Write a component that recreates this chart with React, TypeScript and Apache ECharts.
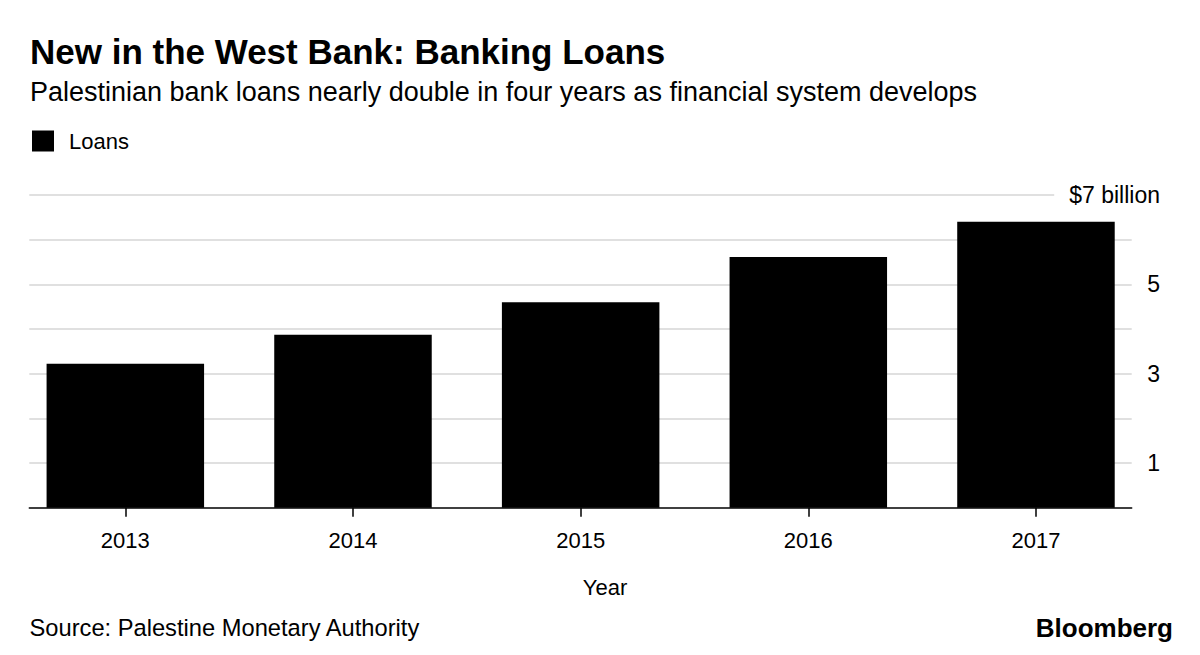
import React, { useEffect, useRef } from "react";
import * as echarts from "echarts";

const years = ["2013", "2014", "2015", "2016", "2017"];
const loans = [3.22, 3.87, 4.6, 5.61, 6.4];
const yTicks = [0, 1, 2, 3, 4, 5, 6, 7];

const FONT = "'Liberation Sans', Arial, Helvetica, sans-serif";

export default function App() {
  const ref = useRef<HTMLDivElement>(null);

  useEffect(() => {
    if (!ref.current) return;
    const chart = echarts.init(ref.current, null, { renderer: "svg" });

    const top = 195;
    const bottom = 655 - 507.7;

    chart.setOption({
      animation: false,
      backgroundColor: "#ffffff",
      textStyle: { fontFamily: FONT },
      legend: {
        show: true,
        left: 32,
        top: 130,
        padding: 0,
        icon: "rect",
        itemWidth: 22,
        itemHeight: 21,
        data: [{ name: "Loans", itemStyle: { color: "#000" } }],
        textStyle: {
          fontFamily: FONT,
          fontSize: 22,
          color: "#000",
          padding: [0, 0, 0, 10],
        },
        selectedMode: false,
      },
      grid: [
        { left: 29.3, right: 1200 - 1131.7, top, bottom, containLabel: false },
        { left: 11.5, right: 1200 - 1149.8, top, bottom, containLabel: false },
      ],
      xAxis: [
        {
          gridIndex: 0,
          type: "value",
          min: 0,
          max: 1,
          axisLine: { show: true, onZero: false, lineStyle: { color: "#000", width: 1.5 } },
          axisTick: { show: false },
          axisLabel: { show: false },
          splitLine: { show: false },
        },
        {
          gridIndex: 1,
          type: "category",
          data: years,
          axisLine: { show: false },
          axisTick: {
            show: true,
            alignWithLabel: true,
            length: 9,
            lineStyle: { color: "#000", width: 1.5 },
          },
          axisLabel: {
            fontFamily: FONT,
            fontSize: 22,
            color: "#000",
            margin: 32.3,
            verticalAlign: "middle",
          },
          splitLine: { show: false },
        },
      ],
      yAxis: [
        {
          gridIndex: 0,
          type: "value",
          position: "right",
          min: yTicks[0],
          max: yTicks[yTicks.length - 1],
          interval: 1,
          axisLine: { show: false },
          axisTick: { show: false },
          splitLine: {
            show: true,
            showMinLine: false,
            lineStyle: { color: "#e0e0e0", width: 2 },
          },
          axisLabel: {
            fontFamily: FONT,
            fontSize: 23,
            color: "#000",
            align: "right",
            margin: 28.3,
            formatter: (v: number) => {
              if (v === 7) return "{top|$7 billion}";
              return v % 2 === 1 ? String(v) : "";
            },
            rich: {
              top: {
                fontFamily: FONT,
                fontSize: 23,
                color: "#000",
                backgroundColor: "#ffffff",
                padding: [2, 0, 2, 15],
              },
            },
          },
        },
        {
          gridIndex: 1,
          type: "value",
          show: false,
          min: 0,
          max: 7,
          interval: 1,
          splitLine: { show: false },
        },
      ],
      series: [
        {
          name: "Loans",
          type: "bar",
          xAxisIndex: 1,
          yAxisIndex: 1,
          data: loans,
          barWidth: 157.5,
          itemStyle: { color: "#000" },
          z: 3,
        },
      ],
      graphic: [
        {
          type: "text",
          x: 30,
          y: 51.5,
          style: {
            text: "New in the West Bank: Banking Loans",
            fontFamily: FONT,
            fontSize: 35,
            fontWeight: "bold",
            fill: "#000",
            align: "left",
            verticalAlign: "middle",
          },
        },
        {
          type: "text",
          x: 30,
          y: 92,
          style: {
            text: "Palestinian bank loans nearly double in four years as financial system develops",
            fontFamily: FONT,
            fontSize: 27,
            fill: "#000",
            align: "left",
            verticalAlign: "middle",
          },
        },
        {
          type: "text",
          x: 605,
          y: 587.5,
          style: {
            text: "Year",
            fontFamily: FONT,
            fontSize: 22,
            fill: "#000",
            align: "center",
            verticalAlign: "middle",
          },
        },
        {
          type: "text",
          x: 29.5,
          y: 628.3,
          style: {
            text: "Source: Palestine Monetary Authority",
            fontFamily: FONT,
            fontSize: 23.7,
            fill: "#000",
            align: "left",
            verticalAlign: "middle",
          },
        },
        {
          type: "text",
          x: 1173,
          y: 627.5,
          style: {
            text: "Bloomberg",
            fontFamily: FONT,
            fontSize: 26,
            fontWeight: "bold",
            fill: "#000",
            align: "right",
            verticalAlign: "middle",
          },
        },
      ],
    });

    return () => chart.dispose();
  }, []);

  return (
    <div
      ref={ref}
      style={{ position: "fixed", left: 0, top: 0, width: 1200, height: 655, background: "#fff" }}
    />
  );
}
